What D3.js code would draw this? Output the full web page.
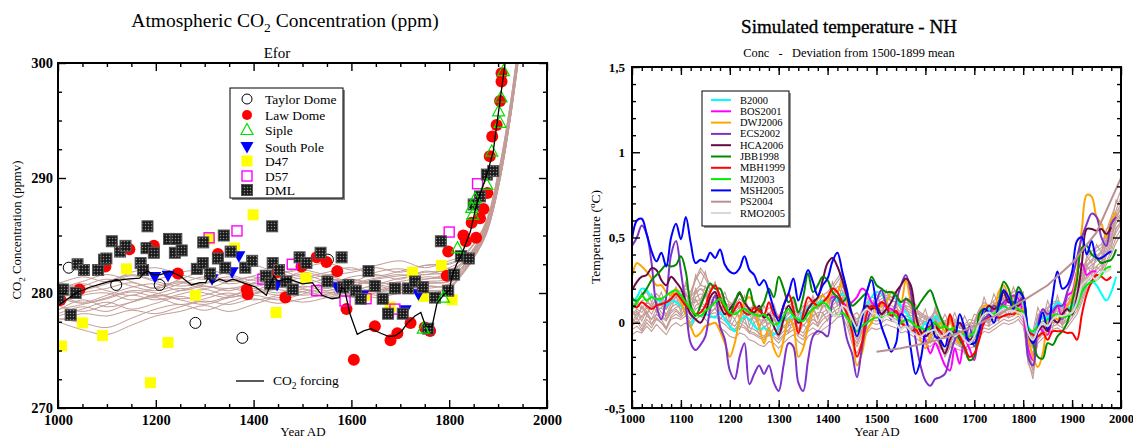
<!DOCTYPE html>
<html>
<head>
<meta charset="utf-8">
<script src="https://cdn.jsdelivr.net/npm/d3@7"></script>
<style>
  body { margin: 0; background: #fff; }
  svg { display: block; }
  text { font-family: "Liberation Serif", "Times New Roman", serif; }
</style>
</head>
<body>
<svg id="chart" width="1133" height="438"></svg>
<script>
// ---------------- Left panel: atmospheric CO2 ----------------
const co2Ticks = [270, 280, 290, 300];
const co2MinorTicks = [272.5, 275, 277.5, 282.5, 285, 287.5, 292.5, 295, 297.5];
const yearTicksLeft = [1000, 1200, 1400, 1600, 1800, 2000];
const yearMinorLeft = [1050, 1100, 1150, 1250, 1300, 1350, 1450, 1500, 1550, 1650, 1700, 1750, 1850, 1900, 1950];

// ice-core records: [year, ppm]
const taylorDome = [[1022,282.2],[1119,280.7],[1208,280.7],[1281,277.4],[1377,276.1],[1552,282.9]];
const lawDome = [[1005,279.4],[1044,280.3],[1097,282.3],[1146,283.8],[1196,284.1],[1245,281.7],[1327,283.4],[1386,280.3],[1388,279.9],[1448,281.8],[1465,279.6],[1498,282.3],[1529,283.1],[1549,282.7],[1571,281.9],[1590,278.6],[1605,274.2],[1648,277.1],[1680,275.9],[1694,276.5],[1721,277.4],[1750,277.0],[1761,276.7],[1795,281.5],[1798,283.6],[1829,285.0],[1834,284.5],[1840,283.0],[1846,286.1],[1855,284.8],[1863,286.5],[1870,287.3],[1878,288.7],[1883,291.9],[1888,293.6],[1897,294.6],[1904,296.7],[1907,298.4],[1907,299.1]];
const siple = [[1747,276.9],[1788,279.6],[1817,283.9],[1846,287.4],[1848,286.8],[1853,288.2],[1877,289.4],[1887,292.3],[1901,295.8],[1904,294.8],[1906,297.0],[1911,299.3]];
const southPole = [[1198,281.4],[1225,281.5],[1315,281.2],[1356,281.8],[1370,283.2],[1448,280.7],[1571,280.5],[1624,279.8],[1710,278.5],[1737,279.9]];
const d47 = [[1007,275.4],[1050,277.4],[1091,276.3],[1140,282.1],[1189,272.2],[1225,275.7],[1281,279.8],[1310,284.7],[1361,283.9],[1399,286.8],[1446,278.3],[1507,281.3],[1631,279.8],[1679,278.8],[1725,281.8],[1747,279.7],[1784,282.4],[1806,279.4]];
const d57 = [[1309,284.8],[1366,285.4],[1419,281.2],[1479,282.5],[1529,280.2],[1587,279.3],[1630,279.5],[1689,278.6],[1746,280.5],[1800,285.3],[1858,289.5]];
const dml = [[1001,279.6],[1010,280.3],[1026,278.1],[1036,280.0],[1040,282.5],[1053,282.0],[1082,282.0],[1094,282.9],[1099,283.0],[1110,284.5],[1127,283.6],[1138,284.1],[1169,282.6],[1174,282.0],[1183,285.8],[1181,283.9],[1196,283.5],[1227,284.7],[1239,283.5],[1242,284.7],[1253,283.7],[1284,282.1],[1296,282.6],[1297,284.4],[1311,281.7],[1327,283.0],[1339,285.0],[1342,282.2],[1353,283.6],[1383,282.2],[1397,282.8],[1425,281.5],[1434,280.8],[1438,285.8],[1439,282.6],[1452,282.0],[1467,281.0],[1480,280.3],[1494,283.1],[1508,282.6],[1537,283.5],[1551,281.0],[1580,283.1],[1583,280.5],[1594,280.7],[1609,280.2],[1619,279.5],[1635,281.9],[1648,280.6],[1664,279.5],[1675,278.2],[1689,280.4],[1705,278.2],[1716,280.4],[1730,281.0],[1746,280.5],[1757,276.9],[1771,279.6],[1783,284.5],[1798,280.2],[1810,281.6],[1824,283.2],[1840,283.0],[1850,287.7],[1863,288.4],[1877,290.3],[1890,290.6]];

// CO2 forcing curve
const forcingYears = [1000,1010,1037,1065,1106,1140,1167,1177,1184,1195,1210,1228,1249,1273,1290,1302,1307,1317,1330,1344,1358,1378,1405,1426,1436,1441,1450,1467,1480,1500,1520,1540,1560,1575,1580,1586,1597,1612,1625,1640,1660,1677,1690,1703,1715,1730,1742,1752,1765,1775,1790,1800,1806,1815,1825,1843,1856,1877,1890,1901,1914,1920];
const forcingPpm = [278.9,279.2,280.0,280.5,281.0,281.2,281.3,281.8,281.9,281.6,281.6,281.9,281.5,280.7,280.9,280.9,281.3,280.9,281.2,281.0,281.2,280.9,280.5,279.8,280.9,281.5,281.0,281.2,281.1,280.8,280.9,279.8,279.5,279.6,280.5,280.3,278.2,276.4,276.7,276.9,276.5,276.2,276.3,276.7,277.4,278.0,278.3,277.1,277.1,279.1,279.9,280.2,281.5,282.5,283.3,285.3,287.7,290.3,292.3,295.8,299.9,301.5];

// simulated CO2 ensemble members
const ensYearsCo2 = [1000,1050,1100,1150,1200,1250,1300,1350,1400,1450,1500,1550,1600,1650,1700,1750,1800,1825,1850,1875,1900,1925,1950];
const co2Run01 = [279.5,280.2,280.8,281.5,281.0,280.6,280.9,281.4,280.8,281.2,281.6,281.0,280.7,281.2,281.5,281.8,282.0,282.6,283.8,285.8,289.9,296.0,304.0];
const co2Run02 = [278.6,279.0,279.6,280.2,280.0,279.5,279.8,280.4,280.0,280.5,280.1,279.8,280.2,280.6,280.2,280.9,281.0,282.0,283.4,285.4,289.5,295.6,303.6];
const co2Run03 = [280.4,281.0,281.6,281.0,280.4,281.2,281.8,281.0,281.5,282.0,281.4,281.8,282.2,281.5,281.9,282.4,282.5,283.0,284.2,286.0,290.2,296.3,304.3];
const co2Run04 = [277.8,277.4,277.0,277.8,278.6,279.0,278.5,279.2,279.8,279.4,279.9,280.4,279.8,280.2,280.6,280.4,280.8,281.8,283.2,285.2,289.2,295.3,303.2];
const co2Run05 = [279.0,279.8,280.0,279.4,279.9,280.4,280.0,279.6,280.2,280.8,280.4,280.0,280.6,281.0,280.5,281.2,281.4,282.2,283.6,285.6,289.7,295.8,303.8];
const co2Run06 = [280.8,281.4,281.0,281.8,282.2,281.6,281.2,281.9,282.4,281.8,282.2,282.6,282.0,282.4,282.8,282.2,282.8,283.2,284.3,286.2,290.4,296.5,304.5];
const co2Run07 = [278.2,278.8,278.4,279.2,279.6,279.0,279.5,280.0,279.4,279.8,280.3,279.6,279.9,280.4,280.0,280.6,280.6,281.6,283.1,285.1,289.1,295.2,303.1];
const co2Run08 = [279.8,279.2,279.8,280.5,280.8,280.2,280.6,280.2,280.9,281.4,280.8,281.2,281.0,280.8,281.3,281.6,281.8,282.5,283.7,285.7,289.8,295.9,303.9];
const co2Run09 = [277.5,276.8,276.4,277.2,278.0,278.4,278.9,278.4,279.0,279.6,279.2,279.6,280.0,279.6,280.0,280.2,280.4,281.5,283.0,285.0,289.0,295.1,303.0];
const co2Run10 = [280.0,280.6,281.2,280.6,280.2,280.8,281.4,280.8,281.2,281.7,281.2,281.5,281.0,281.8,282.1,281.6,282.2,282.8,283.9,285.9,290.0,296.1,304.1];
const co2Run11 = [278.9,278.4,279.0,279.8,279.4,279.9,280.3,279.8,280.4,280.0,280.6,280.2,280.6,280.1,280.7,281.0,281.2,282.1,283.5,285.5,289.6,295.7,303.7];
const co2Run12 = [279.2,280.0,280.4,280.9,280.4,280.9,280.4,281.0,281.4,280.9,281.3,280.8,281.4,281.6,281.2,281.9,281.6,282.4,283.6,285.7,289.8,295.9,303.9];
const co2Run13 = [278.0,278.6,279.2,278.6,279.1,279.7,279.2,279.7,280.2,279.8,280.1,280.6,280.2,280.7,280.4,280.8,281.0,281.9,283.3,285.3,289.4,295.5,303.5];
const co2Run14 = [281.0,280.4,281.0,281.6,281.2,281.8,282.0,281.6,281.1,281.6,282.0,281.6,281.8,282.2,281.8,282.4,282.6,283.1,284.2,286.1,290.3,296.4,304.4];
const co2Run15 = [278.5,279.4,278.8,279.2,279.8,279.4,279.0,279.6,279.9,280.3,279.8,280.1,279.6,280.0,280.3,280.0,280.4,281.6,283.1,285.1,289.2,295.3,303.3];
const co2Run16 = [279.6,279.1,279.5,280.1,279.7,280.2,280.8,281.2,280.6,280.9,280.5,280.9,281.2,280.8,281.0,281.4,281.4,282.2,283.5,285.5,289.6,295.7,303.7];
const co2Run17 = [280.2,280.8,280.2,279.8,280.5,281.0,280.6,280.4,280.8,281.1,281.8,281.3,280.9,281.3,281.6,281.2,281.8,282.6,283.8,285.8,289.9,296.0,304.0];
const co2Run18 = [277.6,278.2,278.0,278.5,278.2,278.8,279.3,279.0,279.5,279.1,279.5,279.9,280.3,279.8,280.2,280.6,280.6,281.7,283.1,285.1,289.1,295.2,303.2];

// ---------------- Right panel: NH temperature ----------------
const tempTicks = [-0.5, 0, 0.5, 1, 1.5];
const tempTickLabels = ["-0,5", "0", "0,5", "1", "1,5"];
const tempMinorTicks = [-0.4,-0.3,-0.2,-0.1,0.1,0.2,0.3,0.4,0.6,0.7,0.8,0.9,1.1,1.2,1.3,1.4];
const yearTicksRight = [1000,1100,1200,1300,1400,1500,1600,1700,1800,1900,2000];
const yearMinorRight = d3.range(1020, 2000, 20);
const years10 = d3.range(1000, 2001, 10);

const B2000 = [0.12,0.15,0.20,0.19,0.15,0.14,0.12,0.10,0.13,0.12, 0.10,0.06,-0.02,0.05,0.04,0.05,0.04,0.03,0.06,0.02, -0.02,-0.05,0.00,0.04,0.02,-0.02,-0.04,-0.03,-0.05,-0.07, -0.02,0.03,0.02,0.05,0.01,0.07,0.09,0.10,0.12,0.13, 0.14,0.15,0.13,0.17,0.12,0.02,-0.03,0.05,0.10,0.15, 0.18,0.17,0.13,0.18,0.14,0.10,0.06,0.02,-0.02,-0.05, 0.00,-0.04,0.04,0.00,-0.02,-0.04,-0.03,-0.08,-0.06,-0.10, -0.07,0.00,0.05,0.08,0.04,0.05,0.10,0.08,0.10,0.12, 0.12,-0.02,-0.06,0.00,0.03,0.03,0.08,0.12,0.10,0.08, 0.10,0.12,0.18,0.22,0.24,0.22,0.17,0.13,0.18,0.27,null];
const BOS2001 = [null,null,null,null,null,null,null,null,null,null, null,null,null,null,null,null,null,null,null,null, null,null,null,null,null,null,null,null,null,null, null,null,null,null,null,null,null,null,null,null, 0.12,0.15,0.15,0.12,0.10,0.12,0.15,0.20,0.18,0.12, 0.10,0.12,0.09,0.08,0.06,0.05,0.14,0.12,0.02,-0.05, -0.10,-0.18,-0.12,-0.18,-0.25,-0.28,-0.15,-0.24,-0.10,-0.15, -0.22,-0.05,0.00,0.05,0.08,0.12,0.10,0.14,0.16,0.14, 0.05,-0.15,-0.22,-0.02,-0.05,-0.07,0.05,0.10,0.02,0.16, 0.18,0.30,0.35,0.28,0.30,0.30,null,null,null,null,null];
const DWJ2006 = [0.27,0.35,0.33,0.30,0.26,0.22,0.22,0.18,0.16,0.20, 0.12,0.05,-0.02,-0.08,-0.06,-0.02,-0.01,0.00,-0.05,-0.12, -0.20,-0.12,0.02,0.12,0.15,0.10,-0.02,-0.12,-0.03,-0.15, -0.20,-0.10,0.02,-0.02,-0.20,-0.15,-0.02,0.08,0.14,0.16, 0.12,0.20,0.18,0.24,0.12,-0.05,-0.25,-0.18,-0.05,0.00, 0.08,0.10,0.12,0.18,0.17,0.12,0.25,0.12,0.00,-0.10, -0.15,-0.08,-0.05,0.00,-0.05,0.02,-0.08,-0.12,-0.05,-0.10, -0.08,0.02,0.10,0.10,0.08,0.18,0.22,0.15,0.10,0.05, 0.08,-0.08,-0.20,-0.26,-0.18,0.00,0.05,0.02,0.05,0.10, 0.15,0.30,0.55,0.75,0.74,0.62,0.58,0.50,0.60,0.65,null];
const ECS2002 = [0.45,0.50,0.57,0.52,0.35,0.10,0.02,0.15,0.40,0.48, 0.30,0.10,-0.12,-0.16,-0.13,-0.08,0.08,0.16,-0.02,-0.10, -0.28,-0.33,-0.20,-0.12,-0.36,-0.30,-0.25,-0.30,-0.25,-0.35, -0.40,-0.25,-0.12,-0.14,-0.35,-0.40,-0.22,-0.08,-0.05,-0.06, -0.08,0.12,0.15,0.05,-0.10,-0.18,-0.32,-0.15,0.00,0.08, 0.13,0.19,0.10,0.02,0.12,0.22,0.28,0.18,-0.10,-0.25, -0.34,-0.37,-0.33,-0.32,-0.30,-0.20,-0.10,-0.05,-0.10,-0.02, -0.14,-0.05,0.02,0.05,0.10,0.08,0.12,0.14,0.10,0.12, 0.15,-0.20,-0.25,-0.02,0.08,0.05,0.07,0.10,0.10,0.18, 0.26,0.38,0.50,0.58,0.64,0.62,0.50,0.45,0.58,0.62,null];
const HCA2006 = [0.19,0.24,0.27,0.28,0.32,0.31,0.25,0.22,0.27,0.24, 0.20,0.12,0.05,0.02,0.00,0.05,0.15,0.18,0.10,0.05, 0.08,0.12,0.17,0.12,0.08,0.06,0.10,0.03,0.05,-0.02, -0.07,0.02,0.10,0.05,0.00,0.02,0.08,0.12,0.15,0.25, 0.35,0.38,0.33,0.25,0.15,0.05,-0.02,0.05,0.10,0.08, 0.10,0.05,0.08,0.12,0.18,0.22,0.26,0.22,0.05,-0.05, -0.08,-0.05,0.00,-0.12,-0.18,-0.10,-0.05,0.00,-0.05,-0.10, -0.08,0.00,0.05,0.10,0.08,0.10,0.18,0.12,0.12,0.10, 0.14,-0.06,-0.12,-0.05,-0.02,-0.05,0.02,0.00,0.05,0.08, 0.05,0.15,0.35,0.55,0.55,0.54,0.55,0.52,0.56,null,null];
const JBB1998 = [0.14,0.13,0.16,0.20,0.25,0.28,0.31,0.34,0.33,0.34, 0.39,0.30,0.10,0.04,0.10,0.17,0.23,0.20,0.20,0.12, 0.05,0.12,0.18,0.12,0.20,0.10,0.08,0.12,0.20,0.15, 0.27,0.20,0.12,0.15,0.06,0.15,0.29,0.18,0.22,0.27, 0.25,0.18,0.15,0.12,0.15,0.10,0.12,0.15,0.18,0.27, 0.22,0.20,0.18,0.18,0.16,0.12,0.14,0.12,0.08,0.12, 0.16,0.19,0.12,0.04,-0.02,-0.06,-0.05,-0.10,-0.15,-0.22, -0.20,0.05,0.08,0.06,0.04,0.12,0.24,0.20,0.10,0.21, 0.15,-0.05,-0.12,-0.20,-0.21,-0.12,-0.13,-0.08,-0.05,0.00, 0.12,0.25,0.44,0.45,0.40,0.38,0.35,0.36,0.37,0.43,null];
const MBH1999 = [0.10,0.09,0.12,0.10,0.08,0.10,0.11,0.12,0.14,0.17, 0.14,0.10,0.08,0.05,0.06,0.10,0.18,0.22,0.15,0.08, 0.04,0.08,0.12,0.06,0.05,0.09,0.07,0.05,0.12,0.05, 0.03,0.10,0.17,0.08,-0.06,0.05,0.15,0.12,0.10,0.12, 0.15,0.20,0.18,0.12,0.05,-0.05,-0.20,-0.12,0.05,0.10, 0.08,0.12,0.10,0.04,0.07,0.00,-0.02,-0.05,-0.04,-0.08, -0.04,-0.02,0.00,-0.05,-0.08,0.05,-0.04,-0.08,-0.14,-0.20, -0.18,-0.10,0.00,0.03,0.04,0.03,0.04,0.05,0.05,0.07, 0.06,-0.05,-0.07,-0.08,-0.06,-0.10,-0.05,-0.05,-0.05,-0.06, -0.06,-0.10,0.05,0.17,0.24,0.28,0.27,0.25,0.27,null,null];
const MJ2003 = [0.08,0.12,0.16,0.13,0.15,0.14,0.14,0.16,0.18,0.19, 0.16,0.12,0.08,0.05,0.04,0.07,0.09,0.12,0.14,0.10, 0.06,0.05,0.07,0.08,0.06,0.05,0.04,0.05,0.02,-0.01, 0.00,0.04,0.08,0.04,0.02,0.01,0.05,0.08,0.10,0.12, 0.10,0.05,0.04,0.06,0.03,-0.02,-0.05,-0.02,0.00,0.02, 0.03,0.03,0.04,0.06,0.04,0.00,0.02,0.01,-0.02,-0.03, -0.04,-0.03,0.00,-0.03,-0.02,-0.04,-0.03,-0.06,-0.07,-0.08, -0.05,0.00,0.05,0.06,0.05,0.08,0.10,0.08,0.09,0.08, 0.06,-0.03,-0.05,-0.02,0.00,0.02,0.04,0.05,0.03,0.04, 0.06,0.10,0.18,0.22,0.24,0.25,0.28,0.32,0.33,null,null];
const MSH2005 = [0.49,0.60,0.61,0.52,0.42,0.36,0.41,0.33,0.50,0.58, 0.49,0.62,0.47,0.35,0.37,0.36,0.41,0.38,0.43,0.34, 0.30,0.29,0.32,0.39,0.31,0.28,0.22,0.25,0.18,0.08, 0.01,0.10,0.17,0.26,0.13,0.22,0.31,0.24,0.16,0.22, 0.26,0.36,0.41,0.30,0.18,0.02,-0.08,0.02,0.18,0.25, 0.10,-0.02,-0.10,-0.17,-0.12,0.05,0.02,-0.15,-0.30,-0.22, -0.05,0.02,-0.08,-0.10,-0.14,-0.05,-0.08,0.05,-0.03,-0.12, -0.12,-0.05,0.08,0.06,0.00,0.10,0.19,0.15,0.08,0.18, 0.15,-0.05,-0.12,-0.04,0.06,-0.04,0.15,0.30,0.20,0.22, 0.30,0.48,0.50,0.40,0.48,0.38,0.38,0.40,0.42,null,null];
const RMO2005 = [null,null,null,null,null,null,null,null,null,null, null,null,null,null,null,null,null,null,null,null, null,null,null,null,null,null,null,null,null,null, null,null,null,null,null,null,null,null,null,null, 0.08,0.05,0.04,0.10,0.08,0.02,-0.03,0.05,0.08,0.06, 0.05,0.02,0.04,0.03,0.00,-0.04,-0.02,-0.05,-0.07,-0.08, -0.06,-0.05,-0.04,-0.08,-0.07,-0.05,-0.08,-0.06,-0.10,-0.12, -0.08,0.00,0.05,0.06,0.04,0.06,0.08,0.07,0.07,0.06, 0.05,-0.06,-0.10,-0.04,0.00,-0.02,0.02,0.04,0.04,0.05, 0.06,0.12,0.22,0.25,0.27,0.25,0.30,0.30,0.32,null,null];
// borehole reconstruction (century-scale nodes)
const PS2004Years = [1500,1550,1600,1650,1700,1750,1800,1850,1900,1950,2000];
const PS2004 = [-0.17,-0.15,-0.12,-0.08,-0.02,0.05,0.13,0.22,0.35,0.53,0.85];

// simulated NH temperature ensemble (decadal values)
const simRunA = [0.15,0.12,0.16,0.18,0.12,0.17,0.14,0.10,0.17,0.20, 0.18,0.22,0.16,0.25,0.30,0.26,0.20,0.22,0.17,0.15, 0.12,0.10,0.14,0.12,0.08,0.10,0.06,0.05,0.09,0.07, 0.04,0.08,0.10,0.12,0.07,0.05,0.12,0.14,0.11,0.16, 0.18,0.22,0.26,0.30,0.20,0.06,0.00,0.07,0.12,0.15, 0.14,0.16,0.18,0.15,0.17,0.12,0.14,0.10,0.08,0.06, 0.04,0.03,0.07,0.02,0.01,0.04,0.02,0.00,-0.01,0.02, 0.01,0.08,0.12,0.10,0.13,0.15,0.18,0.16,0.18,0.20, 0.15,-0.02,-0.08,0.05,0.07,0.09,0.12,0.13,0.10,0.13, 0.17,0.22,0.30,0.38,0.42,0.44,0.46,0.54,0.62,0.70,0.78];
const simRunB = [-0.04,-0.02,-0.05,0.00,-0.03,0.02,0.00,-0.04,0.02,0.03, 0.02,0.04,0.00,0.05,0.08,0.06,0.03,0.04,0.01,-0.01, -0.04,-0.05,-0.02,-0.03,-0.06,-0.07,-0.09,-0.10,-0.07,-0.09, -0.12,-0.08,-0.06,-0.04,-0.08,-0.10,-0.05,-0.03,-0.05,-0.01, 0.02,0.04,0.06,0.07,0.01,-0.09,-0.14,-0.08,-0.03,0.00, -0.01,0.00,0.02,0.01,0.00,-0.03,-0.02,-0.04,-0.06,-0.09, -0.10,-0.12,-0.08,-0.13,-0.14,-0.11,-0.12,-0.14,-0.15,-0.13, -0.12,-0.06,-0.03,-0.04,-0.02,0.00,0.02,0.01,0.02,0.04, 0.00,-0.20,-0.28,-0.10,-0.07,-0.05,-0.02,-0.01,-0.03,-0.01, 0.03,0.07,0.14,0.22,0.25,0.27,0.30,0.36,0.42,0.50,0.55];
const simRunC = [0.08,0.02,0.10,0.04,0.12,0.06,0.14,0.02,0.08,0.16, 0.06,0.18,0.08,0.20,0.12,0.22,0.08,0.16,0.06,0.12, 0.00,0.08,0.02,0.10,-0.02,0.06,-0.04,0.04,-0.05,0.05, -0.06,0.04,-0.02,0.08,-0.04,0.05,0.00,0.10,0.02,0.12, 0.06,0.18,0.10,0.22,0.14,-0.06,-0.02,-0.06,0.10,0.04, 0.12,0.04,0.14,0.06,0.12,0.00,0.10,0.02,0.06,-0.04, 0.04,-0.08,0.04,-0.08,0.00,-0.08,0.00,-0.10,-0.02,-0.10, 0.00,-0.02,0.10,0.00,0.12,0.04,0.14,0.06,0.16,0.08, 0.14,-0.14,-0.10,0.04,-0.04,0.08,0.00,0.12,0.00,0.10, 0.06,0.18,0.18,0.34,0.28,0.40,0.34,0.48,0.48,0.64,0.60];
const simRunD = [0.10,0.12,0.08,0.12,0.10,0.14,0.12,0.10,0.13,0.16, 0.14,0.16,0.15,0.19,0.22,0.21,0.17,0.17,0.14,0.12, 0.09,0.08,0.10,0.09,0.07,0.06,0.04,0.03,0.05,0.04, 0.02,0.04,0.06,0.08,0.05,0.04,0.08,0.10,0.09,0.12, 0.14,0.16,0.19,0.19,0.14,0.04,-0.01,0.04,0.09,0.12, 0.11,0.12,0.14,0.13,0.12,0.09,0.10,0.09,0.06,0.04, 0.02,0.01,0.04,0.00,-0.01,0.01,0.00,-0.01,-0.02,-0.01, 0.00,0.06,0.09,0.08,0.10,0.12,0.14,0.13,0.14,0.16, 0.12,-0.06,-0.11,0.02,0.04,0.06,0.09,0.10,0.08,0.10, 0.14,0.18,0.26,0.34,0.37,0.39,0.42,0.49,0.56,0.64,0.70];
const simRunE = [0.00,0.03,-0.02,0.04,0.02,0.05,0.03,0.01,0.06,0.08, 0.05,0.08,0.04,0.10,0.12,0.10,0.07,0.08,0.05,0.03, 0.00,-0.02,0.02,0.00,-0.03,-0.04,-0.06,-0.08,-0.04,-0.06, -0.08,-0.05,-0.02,0.00,-0.04,-0.06,-0.01,0.02,0.00,0.04, 0.06,0.08,0.10,0.12,0.06,-0.05,-0.10,-0.04,0.01,0.04, 0.03,0.04,0.06,0.05,0.04,0.01,0.02,0.00,-0.03,-0.05, -0.07,-0.09,-0.05,-0.12,-0.20,-0.15,-0.10,-0.12,-0.18,-0.10, -0.09,-0.02,0.01,0.00,0.02,0.04,0.06,0.05,0.06,0.08, 0.04,-0.22,-0.33,-0.08,-0.04,-0.02,0.01,0.02,0.00,0.02, 0.06,0.10,0.18,0.26,0.29,0.31,0.34,0.41,0.48,0.55,0.60];
const simRunF = [0.05,0.08,0.06,0.10,0.08,0.12,0.10,0.08,0.14,0.18, 0.16,0.20,0.18,0.26,0.32,0.28,0.22,0.20,0.16,0.12, 0.08,0.06,0.09,0.08,0.05,0.04,0.02,0.01,0.03,0.02, 0.00,0.02,0.05,0.07,0.03,0.02,0.06,0.09,0.08,0.12, 0.16,0.20,0.24,0.28,0.18,0.03,-0.02,0.03,0.08,0.12, 0.10,0.12,0.15,0.13,0.12,0.08,0.09,0.07,0.04,0.02, 0.00,-0.01,0.03,-0.02,-0.03,0.00,-0.02,-0.03,-0.04,-0.02, -0.01,0.05,0.08,0.07,0.10,0.12,0.15,0.14,0.15,0.17, 0.12,-0.08,-0.14,0.01,0.03,0.05,0.08,0.09,0.07,0.09, 0.13,0.17,0.25,0.33,0.36,0.38,0.41,0.48,0.55,0.62,0.68];
const simRunG = [-0.07,-0.05,-0.06,-0.02,-0.05,-0.01,-0.04,-0.07,-0.02,0.00, -0.02,0.00,-0.03,0.02,0.04,0.02,-0.01,0.00,-0.03,-0.05, -0.08,-0.09,-0.06,-0.07,-0.10,-0.11,-0.13,-0.14,-0.11,-0.12, -0.15,-0.12,-0.09,-0.07,-0.11,-0.13,-0.08,-0.06,-0.07,-0.04, -0.02,0.00,0.03,0.04,-0.02,-0.12,-0.18,-0.11,-0.06,-0.03, -0.04,-0.03,-0.01,-0.02,-0.03,-0.06,-0.05,-0.07,-0.09,-0.11, -0.13,-0.14,-0.11,-0.15,-0.17,-0.14,-0.15,-0.16,-0.17,-0.15, -0.14,-0.08,-0.05,-0.06,-0.04,-0.02,0.00,-0.01,0.00,0.02, -0.02,-0.18,-0.25,-0.12,-0.09,-0.07,-0.04,-0.03,-0.05,-0.03, 0.01,0.05,0.12,0.20,0.23,0.25,0.28,0.34,0.40,0.47,0.52];
const simRunH = [0.04,0.07,0.03,0.09,0.05,0.11,0.06,0.04,0.09,0.11, 0.08,0.13,0.09,0.15,0.17,0.16,0.12,0.13,0.09,0.07, 0.06,0.02,0.07,0.04,0.02,0.03,-0.01,0.00,0.02,-0.01, -0.01,0.01,0.03,0.05,0.00,0.01,0.05,0.07,0.04,0.09, 0.11,0.13,0.16,0.16,0.11,0.01,-0.06,0.01,0.06,0.09, 0.08,0.09,0.11,0.10,0.09,0.06,0.07,0.06,0.03,0.01, -0.01,-0.04,0.01,-0.05,-0.06,-0.04,-0.05,-0.06,-0.07,-0.06, -0.05,0.03,0.06,0.05,0.07,0.09,0.11,0.10,0.11,0.13, 0.09,-0.12,-0.18,-0.03,0.01,0.03,0.06,0.07,0.05,0.07, 0.11,0.15,0.23,0.31,0.34,0.36,0.39,0.46,0.53,0.61,0.67];
const simRunI = [0.02,0.00,0.04,0.06,0.02,0.08,0.04,0.02,0.07,0.09, 0.10,0.08,0.12,0.12,0.14,0.18,0.10,0.10,0.08,0.10, 0.03,0.06,0.04,0.02,0.05,0.00,0.02,-0.03,0.00,0.02, -0.04,-0.02,0.00,0.03,0.02,-0.02,0.02,0.04,0.06,0.06, 0.08,0.10,0.13,0.14,0.08,-0.02,-0.08,-0.02,0.04,0.06, 0.05,0.06,0.08,0.07,0.06,0.03,0.04,0.03,0.00,-0.02, -0.04,-0.06,-0.02,-0.10,-0.19,-0.12,-0.08,-0.09,-0.08,-0.07, -0.06,0.00,0.03,0.02,0.04,0.06,0.08,0.07,0.08,0.10, 0.06,-0.18,-0.28,-0.06,-0.02,0.00,0.03,0.04,0.02,0.04, 0.08,0.12,0.20,0.28,0.31,0.33,0.36,0.43,0.50,0.58,0.63];
const simRunJ = [0.12,0.09,0.13,0.14,0.09,0.15,0.11,0.08,0.12,0.15, 0.12,0.16,0.13,0.17,0.20,0.19,0.15,0.15,0.12,0.10, 0.11,0.09,0.12,0.10,0.09,0.08,0.05,0.04,0.06,0.05, 0.03,0.06,0.08,0.10,0.06,0.05,0.10,0.12,0.10,0.13, 0.15,0.17,0.21,0.22,0.16,0.05,0.02,0.06,0.10,0.13, 0.12,0.14,0.16,0.15,0.14,0.10,0.12,0.10,0.07,0.05, 0.03,0.02,0.06,0.01,0.00,0.03,0.01,-0.01,-0.02,0.00, 0.00,0.07,0.10,0.09,0.11,0.13,0.16,0.15,0.16,0.18, 0.13,-0.04,-0.09,0.04,0.06,0.08,0.11,0.12,0.09,0.11, 0.15,0.20,0.28,0.36,0.40,0.42,0.44,0.51,0.58,0.66,0.74];
const simRunK = [0.00,0.06,0.01,0.07,-0.01,0.05,0.02,-0.03,0.04,0.07, 0.04,0.10,0.05,0.14,0.09,0.16,0.05,0.09,0.02,0.06, -0.03,0.02,-0.04,0.03,-0.06,0.00,-0.07,-0.02,-0.08,-0.03, -0.09,-0.02,-0.06,0.03,-0.07,-0.01,-0.04,0.05,-0.02,0.06, 0.01,0.10,0.04,0.15,0.05,-0.08,-0.12,-0.05,0.03,0.00, 0.06,-0.01,0.08,0.01,0.06,-0.04,0.03,-0.04,0.00,-0.07, -0.03,-0.11,-0.02,-0.10,-0.06,-0.12,-0.05,-0.13,-0.08,-0.12, -0.06,-0.04,0.05,-0.02,0.07,0.01,0.09,0.03,0.10,0.05, 0.08,-0.16,-0.22,-0.01,-0.06,0.04,-0.03,0.06,-0.02,0.05, 0.04,0.12,0.15,0.27,0.24,0.33,0.30,0.41,0.44,0.56,0.58];
const simRunL = [0.16,0.10,0.18,0.12,0.17,0.11,0.18,0.09,0.15,0.21, 0.13,0.24,0.14,0.28,0.22,0.30,0.18,0.24,0.13,0.18, 0.09,0.14,0.08,0.16,0.06,0.12,0.03,0.10,0.04,0.11, 0.02,0.11,0.05,0.14,0.04,0.10,0.07,0.16,0.08,0.17, 0.12,0.24,0.17,0.29,0.19,0.04,0.06,0.02,0.15,0.10, 0.17,0.10,0.19,0.12,0.18,0.07,0.15,0.08,0.11,0.02, 0.08,-0.02,0.09,-0.01,0.05,-0.01,0.06,-0.03,0.04,-0.02, 0.05,0.04,0.15,0.07,0.17,0.10,0.20,0.12,0.21,0.14, 0.18,-0.06,-0.05,0.09,0.02,0.13,0.05,0.16,0.05,0.15, 0.12,0.23,0.24,0.39,0.35,0.46,0.41,0.55,0.57,0.72,0.69];
const simRunM = [-0.02,0.01,-0.04,0.02,-0.01,0.03,0.00,-0.03,0.03,0.05, 0.03,0.06,0.02,0.08,0.10,0.09,0.05,0.06,0.03,0.01, -0.02,-0.04,0.00,-0.02,-0.05,-0.06,-0.08,-0.09,-0.06,-0.08, -0.10,-0.07,-0.04,-0.02,-0.06,-0.08,-0.03,0.00,-0.02,0.02, 0.04,0.06,0.08,0.10,0.04,-0.07,-0.12,-0.06,-0.01,0.02, 0.01,0.02,0.04,0.03,0.02,-0.01,0.00,-0.02,-0.05,-0.07, -0.09,-0.11,-0.07,-0.14,-0.16,-0.13,-0.11,-0.13,-0.16,-0.12, -0.10,-0.04,-0.01,-0.02,0.00,0.02,0.04,0.03,0.04,0.06, 0.02,-0.24,-0.30,-0.09,-0.05,-0.03,0.00,0.01,-0.01,0.01, 0.05,0.09,0.16,0.24,0.27,0.29,0.32,0.39,0.46,0.53,0.58];
const simRunN = [0.07,0.04,0.09,0.05,0.10,0.07,0.09,0.05,0.11,0.13, 0.11,0.14,0.10,0.18,0.20,0.17,0.14,0.11,0.10,0.09, 0.04,0.07,0.03,0.06,0.01,0.04,-0.02,0.02,-0.01,0.03, -0.03,0.03,0.00,0.06,0.00,0.03,0.02,0.08,0.03,0.10, 0.09,0.14,0.12,0.18,0.12,-0.01,-0.05,0.00,0.07,0.08, 0.09,0.07,0.12,0.08,0.10,0.04,0.08,0.04,0.05,-0.01, 0.01,-0.05,0.02,-0.06,-0.04,-0.06,-0.02,-0.08,-0.04,-0.07, -0.03,0.01,0.08,0.03,0.09,0.06,0.12,0.08,0.13,0.10, 0.11,-0.10,-0.15,0.02,0.00,0.05,0.03,0.09,0.02,0.08, 0.09,0.16,0.22,0.32,0.32,0.38,0.37,0.46,0.51,0.60,0.64];

// ---------------- drawing ----------------
const svg = d3.select("#chart");
const FONT = '"Liberation Serif", "Times New Roman", serif';
const ensColor = "#c29c96";

const xL = d3.scaleLinear().domain([1000, 2000]).range([58, 547]);
const yL = d3.scaleLinear().domain([270, 300]).range([408, 63]);
const xR = d3.scaleLinear().domain([1000, 2000]).range([632, 1121]);
const yR = d3.scaleLinear().domain([-0.5, 1.5]).range([408, 67]);

const defs = svg.append("defs");
defs.append("clipPath").attr("id", "clipL").append("rect")
  .attr("x", 58).attr("y", 63).attr("width", 489).attr("height", 345);
defs.append("clipPath").attr("id", "clipR").append("rect")
  .attr("x", 632).attr("y", 67).attr("width", 489).attr("height", 341);
const pat = defs.append("pattern").attr("id", "dmlPat")
  .attr("patternUnits", "userSpaceOnUse").attr("width", 3).attr("height", 3);
pat.append("rect").attr("width", 3).attr("height", 3).attr("fill", "#151515");
pat.append("rect").attr("x", 0.8).attr("y", 0.8).attr("width", 1.4).attr("height", 1.4).attr("fill", "#8a8a8a");

function drawAxes(xs, ys, o) {
  const g = svg.append("g");
  const [xa, xb] = xs.range();
  const [yb, ya] = ys.range();
  const style = sel => {
    sel.select(".domain").remove();
    sel.selectAll(".tick line").attr("stroke", "#000").attr("stroke-width", 1.4);
    sel.selectAll(".tick text").attr("fill", "#000");
    sel.attr("font-family", FONT).attr("font-weight", "bold");
  };
  // minor ticks, pointing inward on all four sides
  g.append("g").attr("transform", `translate(0,${yb})`)
    .call(d3.axisBottom(xs).tickValues(o.xMinor).tickSize(-4).tickFormat("")).call(style);
  g.append("g").attr("transform", `translate(0,${ya})`)
    .call(d3.axisTop(xs).tickValues(o.xMinor).tickSize(-4).tickFormat("")).call(style);
  g.append("g").attr("transform", `translate(${xa},0)`)
    .call(d3.axisLeft(ys).tickValues(o.yMinor).tickSize(-4).tickFormat("")).call(style);
  g.append("g").attr("transform", `translate(${xb},0)`)
    .call(d3.axisRight(ys).tickValues(o.yMinor).tickSize(-4).tickFormat("")).call(style);
  // major ticks
  g.append("g").attr("transform", `translate(0,${yb})`)
    .call(d3.axisBottom(xs).tickValues(o.xMajor).tickSize(-8).tickPadding(o.xPad).tickFormat(d3.format("d")))
    .call(style).attr("font-size", o.xFont);
  g.append("g").attr("transform", `translate(0,${ya})`)
    .call(d3.axisTop(xs).tickValues(o.xMajor).tickSize(-8).tickFormat("")).call(style);
  g.append("g").attr("transform", `translate(${xa},0)`)
    .call(d3.axisLeft(ys).tickValues(o.yMajor).tickSize(-8).tickPadding(o.yPad).tickFormat(o.yFormat))
    .call(style).attr("font-size", o.yFont);
  g.append("g").attr("transform", `translate(${xb},0)`)
    .call(d3.axisRight(ys).tickValues(o.yMajor).tickSize(-8).tickFormat("")).call(style);
  svg.append("rect").attr("x", xa).attr("y", ya).attr("width", xb - xa).attr("height", yb - ya)
    .attr("fill", "none").attr("stroke", "#000").attr("stroke-width", 2);
}

// ---- left panel ----
const gL = svg.append("g").attr("clip-path", "url(#clipL)");
const co2Runs = [co2Run01, co2Run02, co2Run03, co2Run04, co2Run05, co2Run06, co2Run07, co2Run08, co2Run09,
  co2Run10, co2Run11, co2Run12, co2Run13, co2Run14, co2Run15, co2Run16, co2Run17, co2Run18];
const lineL = d3.line().x(d => xL(d[0])).y(d => yL(d[1])).curve(d3.curveCatmullRom.alpha(0.5));
gL.selectAll("path.run").data(co2Runs).join("path").attr("class", "run")
  .attr("d", r => lineL(r.map((v, i) => [ensYearsCo2[i], v])))
  .attr("fill", "none").attr("stroke", ensColor).attr("stroke-width", 1);

function marker(g, data, kind, xs, ys) {
  const sel = g.append("g");
  data.forEach(([a, b]) => {
    const x = xs(a), y = ys(b);
    if (kind === "taylor") sel.append("circle").attr("cx", x).attr("cy", y).attr("r", 5.5)
      .attr("fill", "none").attr("stroke", "#000").attr("stroke-width", 1);
    if (kind === "law") sel.append("circle").attr("cx", x).attr("cy", y).attr("r", 6).attr("fill", "#ff0000");
    if (kind === "siple") sel.append("path").attr("d", `M${x},${y - 6.5}L${x + 6},${y + 4.5}L${x - 6},${y + 4.5}Z`)
      .attr("fill", "none").attr("stroke", "#00e000").attr("stroke-width", 1.2);
    if (kind === "south") sel.append("path").attr("d", `M${x},${y + 6.5}L${x + 6.5},${y - 5}L${x - 6.5},${y - 5}Z`)
      .attr("fill", "#0000ff");
    if (kind === "d47") sel.append("rect").attr("x", x - 5.5).attr("y", y - 5.5).attr("width", 11).attr("height", 11)
      .attr("fill", "#ffff00");
    if (kind === "d57") sel.append("rect").attr("x", x - 5).attr("y", y - 5).attr("width", 10).attr("height", 10)
      .attr("fill", "none").attr("stroke", "#ff00ff").attr("stroke-width", 1.4);
    if (kind === "dml") sel.append("rect").attr("x", x - 5.5).attr("y", y - 5.5).attr("width", 11).attr("height", 11)
      .attr("fill", "url(#dmlPat)").attr("stroke", "#555").attr("stroke-width", 1);
  });
}
marker(gL, d47, "d47", xL, yL);
marker(gL, taylorDome, "taylor", xL, yL);
marker(gL, lawDome, "law", xL, yL);
marker(gL, southPole, "south", xL, yL);
marker(gL, d57, "d57", xL, yL);
marker(gL, dml, "dml", xL, yL);
marker(gL, siple, "siple", xL, yL);
gL.append("path")
  .attr("d", d3.line().x(d => xL(d[0])).y(d => yL(d[1]))(forcingYears.map((y, i) => [y, forcingPpm[i]])))
  .attr("fill", "none").attr("stroke", "#000").attr("stroke-width", 1.3);

drawAxes(xL, yL, {
  xMajor: yearTicksLeft, xMinor: yearMinorLeft, yMajor: co2Ticks, yMinor: co2MinorTicks,
  yFormat: d3.format("d"), xFont: 14.5, yFont: 14.5, xPad: 7, yPad: 5
});

// left legend
const legL = svg.append("g");
legL.append("rect").attr("x", 232).attr("y", 90).attr("width", 113).attr("height", 110).attr("fill", "#888");
legL.append("rect").attr("x", 230).attr("y", 88).attr("width", 113).attr("height", 110)
  .attr("fill", "#fff").attr("stroke", "#000").attr("stroke-width", 1);
const legItems = [["Taylor Dome", "taylor"], ["Law Dome", "law"], ["Siple", "siple"], ["South Pole", "south"],
  ["D47", "d47"], ["D57", "d57"], ["DML", "dml"]];
const legRowsY = [99, 115, 130, 147, 161, 176, 190];
const ident = d3.scaleLinear().domain([0, 1]).range([0, 1]);
legItems.forEach(([name, kind], i) => {
  marker(legL, [[247, legRowsY[i]]], kind, ident, ident);
  legL.append("text").attr("x", 265).attr("y", legRowsY[i] + 4.5).attr("font-size", 13.5).text(name);
});
legL.selectAll("circle").attr("r", 5);

// CO2 forcing key
svg.append("line").attr("x1", 236).attr("x2", 264).attr("y1", 381).attr("y2", 381)
  .attr("stroke", "#000").attr("stroke-width", 1.3);
const cf = svg.append("text").attr("x", 273).attr("y", 385).attr("font-size", 13.5);
cf.append("tspan").text("CO");
cf.append("tspan").attr("font-size", 9.5).attr("dy", 4).text("2");
cf.append("tspan").attr("dy", -4).text(" forcing");

// titles and axis labels, left
const tL = svg.append("text").attr("x", 285).attr("y", 27).attr("text-anchor", "middle").attr("font-size", 19.5);
tL.append("tspan").text("Atmospheric CO");
tL.append("tspan").attr("font-size", 13.5).attr("dy", 5).text("2");
tL.append("tspan").attr("dy", -5).text(" Concentration (ppm)");
svg.append("text").attr("x", 277).attr("y", 58).attr("text-anchor", "middle").attr("font-size", 15).text("Efor");
svg.append("text").attr("x", 303).attr("y", 436).attr("text-anchor", "middle").attr("font-size", 13).text("Year AD");
const yLab = svg.append("text").attr("transform", "translate(21,230) rotate(-90)")
  .attr("text-anchor", "middle").attr("font-size", 12.8);
yLab.append("tspan").text("CO");
yLab.append("tspan").attr("font-size", 9).attr("dy", 4).text("2");
yLab.append("tspan").attr("dy", -4).text(" Concentration (ppmv)");

// ---- right panel ----
const gR = svg.append("g").attr("clip-path", "url(#clipR)");
const simRuns = [simRunA, simRunB, simRunC, simRunD, simRunE, simRunF, simRunG, simRunH, simRunI, simRunJ,
  simRunK, simRunL, simRunM, simRunN];
const lineEns = d3.line().x(d => xR(d[0])).y(d => yR(d[1]));
gR.selectAll("path.sim").data(simRuns).join("path").attr("class", "sim")
  .attr("d", r => lineEns(r.map((v, i) => [years10[i], v])))
  .attr("fill", "none").attr("stroke", ensColor).attr("stroke-width", 1.1);

const recon = [
  { name: "B2000", color: "#00ffff", values: B2000 },
  { name: "BOS2001", color: "#ff00ff", values: BOS2001 },
  { name: "DWJ2006", color: "#ffa500", values: DWJ2006 },
  { name: "ECS2002", color: "#7d33c9", values: ECS2002 },
  { name: "HCA2006", color: "#6a0a44", values: HCA2006 },
  { name: "JBB1998", color: "#008a00", values: JBB1998 },
  { name: "MBH1999", color: "#ff0000", values: MBH1999 },
  { name: "MJ2003", color: "#00ee00", values: MJ2003 },
  { name: "MSH2005", color: "#0000ff", values: MSH2005 },
  { name: "PS2004", color: "#bc8f8f", values: null },
  { name: "RMO2005", color: "#d8d8d8", values: RMO2005 }
];
const lineRecon = d3.line().defined(d => d[1] !== null)
  .x(d => xR(d[0])).y(d => yR(d[1])).curve(d3.curveCatmullRom.alpha(0.5));
recon.filter(s => s.values && s.name !== "RMO2005").forEach(s => {
  gR.append("path").attr("d", lineRecon(s.values.map((v, i) => [years10[i], v])))
    .attr("fill", "none").attr("stroke", s.color).attr("stroke-width", 2);
});
gR.append("path").attr("d", lineRecon(RMO2005.map((v, i) => [years10[i], v])))
  .attr("fill", "none").attr("stroke", "#d8d8d8").attr("stroke-width", 2);
gR.append("path")
  .attr("d", d3.line().x(d => xR(d[0])).y(d => yR(d[1]))(PS2004Years.map((y, i) => [y, PS2004[i]])))
  .attr("fill", "none").attr("stroke", "#bc8f8f").attr("stroke-width", 2);

drawAxes(xR, yR, {
  xMajor: yearTicksRight, xMinor: yearMinorRight, yMajor: tempTicks, yMinor: tempMinorTicks,
  yFormat: d => tempTickLabels[tempTicks.indexOf(d)], xFont: 12.5, yFont: 13, xPad: 6, yPad: 7
});

// right legend
const legR = svg.append("g");
legR.append("rect").attr("x", 704).attr("y", 93).attr("width", 87).attr("height", 135).attr("fill", "#999");
legR.append("rect").attr("x", 702).attr("y", 91).attr("width", 87).attr("height", 135)
  .attr("fill", "#fff").attr("stroke", "#000").attr("stroke-width", 1);
const legRRowsY = [100, 111.3, 122.6, 133.9, 145.2, 156.5, 167.8, 179.1, 190.4, 201.7, 213];
recon.forEach((s, i) => {
  legR.append("line").attr("x1", 711).attr("x2", 731).attr("y1", legRRowsY[i]).attr("y2", legRRowsY[i])
    .attr("stroke", s.color).attr("stroke-width", 2);
  legR.append("text").attr("x", 740).attr("y", legRRowsY[i] + 3.5).attr("font-size", 10.5).text(s.name);
});

// titles and axis labels, right
svg.append("text").attr("x", 849).attr("y", 33).attr("text-anchor", "middle").attr("font-size", 19)
  .attr("stroke", "#000").attr("stroke-width", 0.35).text("Simulated temperature - NH");
svg.append("text").attr("x", 849).attr("y", 57).attr("text-anchor", "middle").attr("font-size", 12.4)
  .style("white-space", "pre").text("Conc   -   Deviation from 1500-1899 mean");
svg.append("text").attr("x", 877).attr("y", 436).attr("text-anchor", "middle").attr("font-size", 13).text("Year AD");
const tLab = svg.append("text").attr("transform", "translate(600,237) rotate(-90)")
  .attr("text-anchor", "middle").attr("font-size", 13.5);
tLab.append("tspan").text("Temperature (");
tLab.append("tspan").attr("font-size", 9).attr("dy", -5).text("o");
tLab.append("tspan").attr("dy", 5).text("C)");
</script>
</body>
</html>
